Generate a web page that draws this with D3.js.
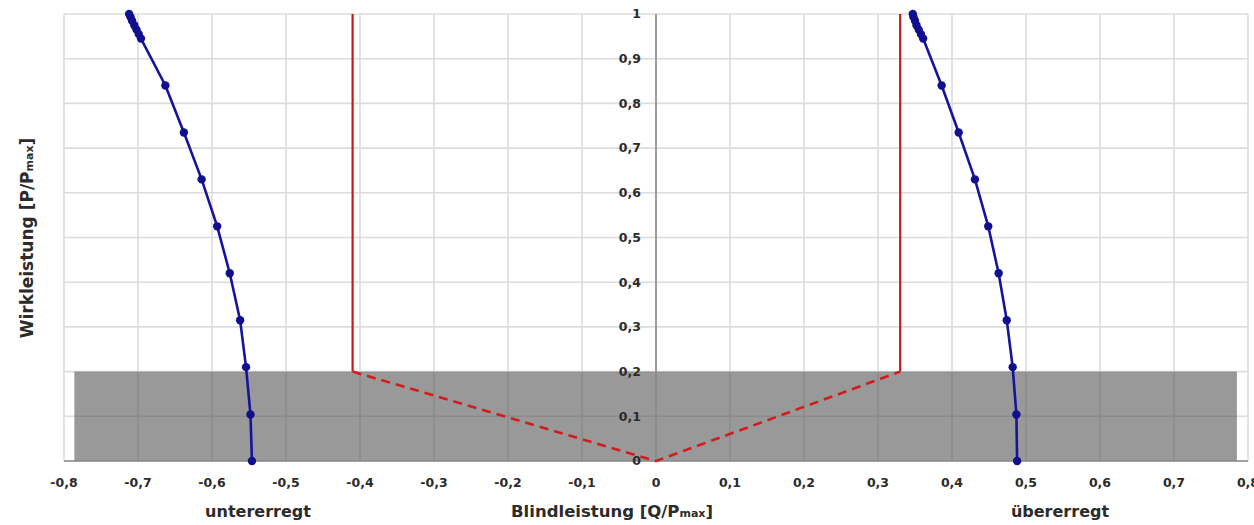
<!DOCTYPE html>
<html><head><meta charset="utf-8">
<script src="https://cdn.jsdelivr.net/npm/d3@7/dist/d3.min.js"></script>
<style>
body{margin:0;background:#fff;}
text{font-family:"DejaVu Sans",sans-serif;font-weight:bold;fill:#2b2b2b;}
</style></head>
<body><svg id="viz" width="1254" height="525"></svg>
<script>
// tick values
const xTicks = [-0.8,-0.7,-0.6,-0.5,-0.4,-0.3,-0.2,-0.1,0,0.1,0.2,0.3,0.4,0.5,0.6,0.7,0.8];
const yTicks = [0,0.1,0.2,0.3,0.4,0.5,0.6,0.7,0.8,0.9,1];
// capability curves (P, Q)
const curveP  = [0,0.104,0.21,0.315,0.42,0.525,0.63,0.735,0.84,0.945,0.955,0.965,0.975,0.985,0.993,1.0];
const underQ  = [-0.546,-0.548,-0.554,-0.562,-0.576,-0.593,-0.614,-0.638,-0.663,-0.696,-0.699,-0.702,-0.705,-0.708,-0.710,-0.712];
const overQ   = [0.488,0.487,0.482,0.474,0.463,0.449,0.431,0.409,0.386,0.361,0.358,0.355,0.352,0.350,0.348,0.347];
// requirement limits
const limitQ = [-0.41, 0.33];
const limitP = [0.2, 1];
// shaded zone
const shadeQ = [-0.786, 0.785], shadeP = [0, 0.2];

const fmt = v => (Math.round(v*10)/10).toString().replace(".", ",");
const svg = d3.select("#viz");
const x = d3.scaleLinear().domain([-0.8,0.8]).range([64,1248]);
const y = d3.scaleLinear().domain([0,1]).range([461,14]);

// grid
const grid = svg.append("g").attr("stroke","#dcdcdc").attr("stroke-width",1.6);
grid.selectAll("line.v").data(xTicks).join("line").attr("class","v")
  .attr("x1",d=>x(d)).attr("x2",d=>x(d)).attr("y1",y(1)).attr("y2",y(0));
grid.selectAll("line.h").data(yTicks).join("line").attr("class","h")
  .attr("x1",x(-0.8)).attr("x2",x(0.8)).attr("y1",d=>y(d)).attr("y2",d=>y(d));

// shaded zone (semi-transparent so grid shows through)
svg.append("rect").attr("x",x(shadeQ[0])).attr("width",x(shadeQ[1])-x(shadeQ[0]))
  .attr("y",y(shadeP[1])).attr("height",y(shadeP[0])-y(shadeP[1]))
  .attr("fill","#555").attr("fill-opacity",0.6);

// axes lines
svg.append("line").attr("x1",x(0)).attr("x2",x(0)).attr("y1",y(1)).attr("y2",y(0))
  .attr("stroke","#8a8a8a").attr("stroke-width",1.6);
svg.append("line").attr("x1",x(-0.8)).attr("x2",x(0.8)).attr("y1",y(0)).attr("y2",y(0))
  .attr("stroke","#8a8a8a").attr("stroke-width",1.6);

// tick labels
svg.append("g").selectAll("text").data(yTicks).join("text")
  .attr("x",x(0)-15).attr("y",d=>y(d)).attr("dy","0.35em").attr("text-anchor","end")
  .attr("font-size",12.5).text(d=>d===1?"1":fmt(d));
svg.append("g").selectAll("text").data(xTicks).join("text")
  .attr("x",d=>x(d)).attr("y",487).attr("text-anchor","middle")
  .attr("font-size",12.5).text(d=>fmt(d));

// red limits
const line = d3.line().x(d=>x(d[0])).y(d=>y(d[1]));
limitQ.forEach(q=>{
  svg.append("path").attr("d",line([[q,limitP[0]],[q,limitP[1]]]))
    .attr("stroke","#c41a1a").attr("stroke-width",2.2).attr("fill","none");
});
svg.append("path").attr("d",line([[limitQ[0],limitP[0]],[0,0],[limitQ[1],limitP[0]]]))
  .attr("stroke","#d21c1c").attr("stroke-width",2.6).attr("fill","none")
  .attr("stroke-dasharray","9,6");

// blue curves
[underQ, overQ].forEach(qs=>{
  const pts = curveP.map((p,i)=>[qs[i],p]);
  svg.append("path").attr("d",line(pts)).attr("stroke","#14149c").attr("stroke-width",2.6).attr("fill","none");
  svg.append("g").selectAll("circle").data(pts).join("circle")
    .attr("cx",d=>x(d[0])).attr("cy",d=>y(d[1])).attr("r",4.2).attr("fill","#10108f");
});

// titles
const t = svg.append("text").attr("x",612).attr("y",517).attr("text-anchor","middle").attr("font-size",16.5);
t.append("tspan").text("Blindleistung [Q/P");
t.append("tspan").attr("font-size",11).text("max");
t.append("tspan").text("]");
svg.append("text").attr("x",258).attr("y",517).attr("text-anchor","middle").attr("font-size",16).text("untererregt");
svg.append("text").attr("x",1060).attr("y",517).attr("text-anchor","middle").attr("font-size",16).text("übererregt");
const yt = svg.append("text").attr("transform","translate(33,238) rotate(-90)").attr("text-anchor","middle").attr("font-size",17);
yt.append("tspan").text("Wirkleistung [P/P");
yt.append("tspan").attr("font-size",11).text("max");
yt.append("tspan").text("]");
</script></body></html>
